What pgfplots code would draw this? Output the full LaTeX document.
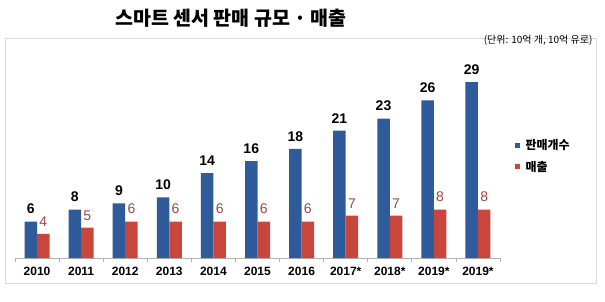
\documentclass[border=0pt]{standalone}
\usepackage{pgfplots}
\pgfplotsset{compat=1.18}
\usepackage{fontspec}
\setmainfont{Liberation Sans}
\newfontfamily\kr{Noto Sans CJK KR}
\definecolor{bblue}{HTML}{2F5B9A}
\definecolor{bred}{HTML}{C9463D}
\definecolor{lred}{HTML}{A04545}
\begin{document}
\begin{tikzpicture}[x=1pt,y=1pt]
\useasboundingbox (0,0) rectangle (605,301);
\draw[gray!30, line width=1pt] (5,18) rectangle (596,263);
\node[font=\kr\bfseries\fontsize{19.5}{22}\selectfont] at (231,283) {스마트 센서 판매 규모 · 매출};
\node[font=\kr\fontsize{10}{12}\selectfont, anchor=east] at (596,261) {(단위: 10억 개, 10억 유로)};
\begin{axis}[
  at={(15pt,43pt)}, anchor=south west,
  scale only axis, width=485pt, height=180pt,
  xmin=-0.5, xmax=10.5, ymin=0, ymax=29.7,
  ybar=0pt, bar width=12.5pt,
  axis x line*=bottom, axis y line=none,
  x axis line style={gray!60, line width=0.8pt},
  xtick={0,...,10},
  xticklabels={2010,2011,2012,2013,2014,2015,2016,2017*,2018*,2019*,2019*},
  major x tick style={draw=none},
  minor xtick={-0.5,0.5,...,10.5},
  minor tick length=4pt,
  minor x tick style={gray!60, line width=0.8pt},
  xticklabel style={font=\bfseries\fontsize{12}{14}\selectfont, yshift=-1pt},
  nodes near coords,
  /pgf/number format/assume math mode=true,
  every node near coord/.append style={font=\fontsize{14}{16}\selectfont, yshift=4pt},
]
\addplot[fill=bblue, draw=none, nodes near coords style={text=black, font=\bfseries\fontsize{14}{16}\selectfont}] coordinates {
(0,6) (1,8) (2,9) (3,10) (4,14) (5,16) (6,18) (7,21) (8,23) (9,26) (10,29)};
\addplot[fill=bred, draw=none, nodes near coords style={text=lred}] coordinates {
(0,4) (1,5) (2,6) (3,6) (4,6) (5,6) (6,6) (7,7) (8,7) (9,8) (10,8)};
\end{axis}
\fill[bblue] (515,153) rectangle (520,158);
\node[font=\kr\bfseries\fontsize{12}{14}\selectfont, anchor=west] at (522,155.5) {판매개수};
\fill[bred] (515,132) rectangle (520,137);
\node[font=\kr\bfseries\fontsize{12}{14}\selectfont, anchor=west] at (522,134.5) {매출};
\end{tikzpicture}
\end{document}
